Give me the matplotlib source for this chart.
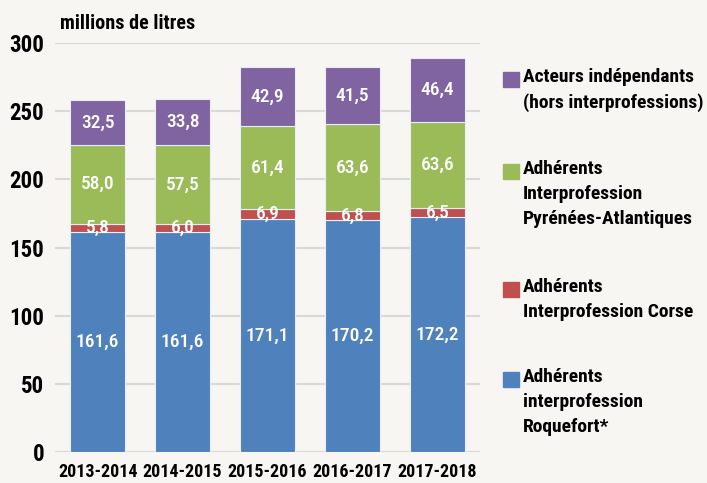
import matplotlib.pyplot as plt
from matplotlib.patches import Rectangle
from matplotlib import font_manager
import numpy as np

# donnees (millions de litres)
campagnes = ["2013-2014", "2014-2015", "2015-2016", "2016-2017", "2017-2018"]
roquefort = [161.6, 161.6, 171.1, 170.2, 172.2]
corse = [5.8, 6.0, 6.9, 6.8, 6.5]
pyrenees = [58.0, 57.5, 61.4, 63.6, 63.6]
independants = [32.5, 33.8, 42.9, 41.5, 46.4]

series = [roquefort, corse, pyrenees, independants]
couleurs = ["#4f81bd", "#c0504d", "#9bbb59", "#8064a2"]
legendes = ["Adhérents\ninterprofession\nRoquefort*",
            "Adhérents\nInterprofession Corse",
            "Adhérents\nInterprofession\nPyrénées-Atlantiques",
            "Acteurs indépendants\n(hors interprofessions)"]

# police etroite si dispo
fontes = font_manager.fontManager.ttflist
noms = {f.name for f in fontes}
police, etroit, stretch = "DejaVu Sans", False, "normal"
for nom in ["Roboto Condensed", "Liberation Sans Narrow", "DejaVu Sans Condensed",
            "Open Sans Condensed", "Noto Sans Condensed"]:
    if nom in noms:
        police, etroit = nom, True
        break
if not etroit:
    for f in fontes:
        if f.name == "DejaVu Sans" and "condensed" in str(f.stretch):
            police, etroit, stretch = "DejaVu Sans", True, "condensed"
            break

k = 1.0 if etroit else 0.8
fond = "#f8f6f2"

fig = plt.figure(figsize=(7.07, 4.83), dpi=100, facecolor=fond)
ax = fig.add_axes([0.078, 0.064, 0.601, 0.847], facecolor=fond)

x = np.arange(len(campagnes))
bas = np.zeros(len(campagnes))
for vals, c in zip(series, couleurs):
    vals = np.array(vals)
    ax.bar(x, vals, 0.64, bottom=bas, color=c, edgecolor="#e8eef6", linewidth=0.8, zorder=3)
    for xi, b, v in zip(x, bas, vals):
        ax.text(xi, b + v / 2, f"{v:.1f}".replace(".", ","), ha="center", va="center",
                color="white", fontsize=14 * k, family=police, stretch=stretch,
                fontweight="medium", zorder=4)
    bas = bas + vals

ax.set_xlim(-0.5, 4.5)
ax.set_ylim(0, 300)
ax.set_yticks(range(0, 301, 50))
ax.grid(axis="y", color="#d9d9d9", linewidth=1.5, zorder=0)
for s in ax.spines.values():
    s.set_visible(False)
ax.tick_params(length=0)
ax.tick_params(axis="y", pad=8)
ax.tick_params(axis="x", pad=8)
ax.set_xticks(x)
ax.set_xticklabels(campagnes)
for lab in ax.get_xticklabels():
    lab.set_fontsize(13 * k)
    lab.set_family(police)
    lab.set_stretch(stretch)
    lab.set_fontweight("bold")
for lab in ax.get_yticklabels():
    lab.set_fontsize(16.5 * k)
    lab.set_family(police)
    lab.set_stretch(stretch)
    lab.set_fontweight("bold")

fig.text(0.085, 0.952, "millions de litres", fontsize=14.5 * k, family=police,
         stretch=stretch, fontweight="bold", va="center")

# legende a la main
ypos = [0.859, 0.669, 0.424, 0.238]
for (lab, c), y in zip(reversed(list(zip(legendes, couleurs))), ypos):
    fig.add_artist(Rectangle((0.711, y - 0.0393), 0.0226, 0.031, color=c,
                             transform=fig.transFigure))
    fig.text(0.740, y, lab, fontsize=14 * k, family=police, stretch=stretch,
             fontweight="bold", va="top", linespacing=1.5)

fig.savefig("out.png", dpi=100, facecolor=fond)
